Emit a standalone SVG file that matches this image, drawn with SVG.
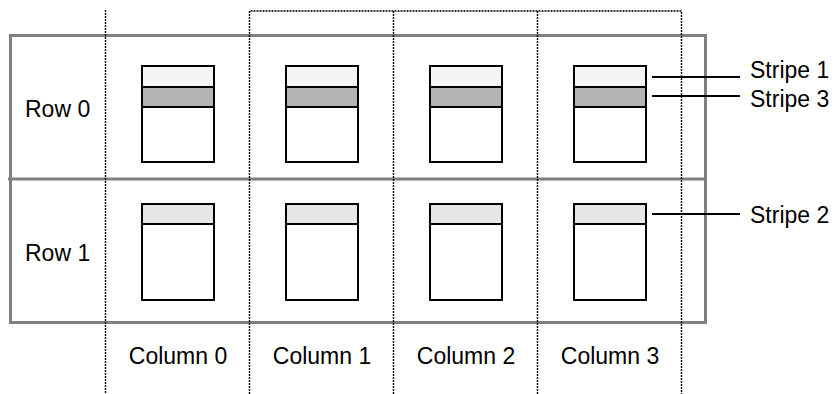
<svg xmlns="http://www.w3.org/2000/svg" width="834" height="394" viewBox="0 0 834 394">
<style>
text{font-family:"Liberation Sans",Arial,sans-serif;font-size:23px;fill:#000}
.dot{stroke:#000;stroke-width:1.4;stroke-dasharray:2,1;fill:none}
.grid{stroke:#808080;stroke-width:3;fill:none}
.box{stroke:#000;stroke-width:2;fill:#fff}
.s1{fill:#f5f5f5;stroke:#000;stroke-width:2}
.s3{fill:#b3b3b3;stroke:#000;stroke-width:2}
.s2{fill:#e6e6e6;stroke:#000;stroke-width:2}
.lead{stroke:#000;stroke-width:2}
</style>
<rect width="834" height="394" fill="#fff"/>
<g id="grid">
<rect class="grid" x="10.5" y="35.5" width="695" height="287"/>
<line class="grid" x1="8" y1="179" x2="707" y2="179"/>
</g>
<g id="columns">
<line class="dot" x1="105.5" y1="10" x2="105.5" y2="394"/>
<polyline class="dot" points="249.5,394 249.5,11 681.5,11 681.5,394"/>
<line class="dot" x1="393.5" y1="11" x2="393.5" y2="394"/>
<line class="dot" x1="537.5" y1="11" x2="537.5" y2="394"/>
</g>
<g id="r0c0"><rect class="box" x="142" y="66" width="72" height="96"/><rect class="s1" x="142" y="66" width="72" height="21"/><rect class="s3" x="142" y="87" width="72" height="20"/></g>
<g id="r0c1"><rect class="box" x="286" y="66" width="72" height="96"/><rect class="s1" x="286" y="66" width="72" height="21"/><rect class="s3" x="286" y="87" width="72" height="20"/></g>
<g id="r0c2"><rect class="box" x="430" y="66" width="72" height="96"/><rect class="s1" x="430" y="66" width="72" height="21"/><rect class="s3" x="430" y="87" width="72" height="20"/></g>
<g id="r0c3"><rect class="box" x="574" y="66" width="72" height="96"/><rect class="s1" x="574" y="66" width="72" height="21"/><rect class="s3" x="574" y="87" width="72" height="20"/></g>
<g id="r1c0"><rect class="box" x="142" y="204" width="72" height="96"/><rect class="s2" x="142" y="204" width="72" height="20"/></g>
<g id="r1c1"><rect class="box" x="286" y="204" width="72" height="96"/><rect class="s2" x="286" y="204" width="72" height="20"/></g>
<g id="r1c2"><rect class="box" x="430" y="204" width="72" height="96"/><rect class="s2" x="430" y="204" width="72" height="20"/></g>
<g id="r1c3"><rect class="box" x="574" y="204" width="72" height="96"/><rect class="s2" x="574" y="204" width="72" height="20"/></g>
<g id="connectors">
<line class="lead" x1="652" y1="77" x2="740" y2="77"/>
<line class="lead" x1="652" y1="96" x2="740" y2="96"/>
<line class="lead" x1="652" y1="214" x2="740" y2="214"/>
</g>
<g id="labels">
<text x="25" y="117">Row 0</text>
<text x="25" y="261">Row 1</text>
<text x="178" y="364" text-anchor="middle">Column 0</text>
<text x="322" y="364" text-anchor="middle">Column 1</text>
<text x="466" y="364" text-anchor="middle">Column 2</text>
<text x="610" y="364" text-anchor="middle">Column 3</text>
<text x="750" y="78">Stripe 1</text>
<text x="750" y="107">Stripe 3</text>
<text x="750" y="223">Stripe 2</text>
</g>
</svg>
